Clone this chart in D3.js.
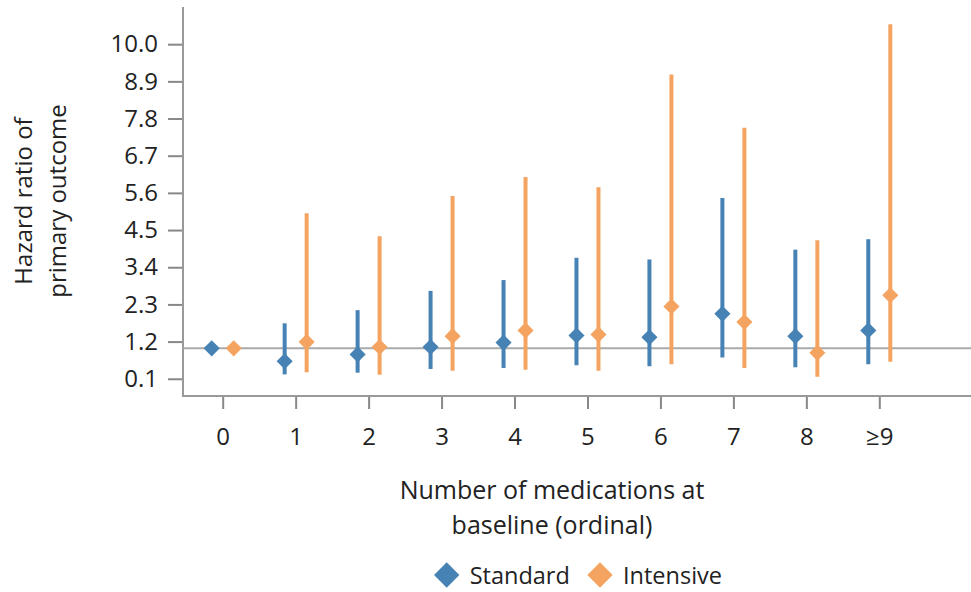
<!DOCTYPE html>
<html>
<head>
<meta charset="utf-8">
<script src="https://cdn.jsdelivr.net/npm/d3@7"></script>
<style>
  body { margin: 0; background: #fff; }
  text { font-family: "Open Sans", sans-serif; fill: #222; }
</style>
</head>
<body>
<svg id="chart" width="971" height="592"></svg>
<script>
// categories and values
var categories = ['0', '1', '2', '3', '4', '5', '6', '7', '8', '≥9'];
var yTicks = [0.1, 1.2, 2.3, 3.4, 4.5, 5.6, 6.7, 7.8, 8.9, 10.0];

var standardHR    = [1.00, 0.62, 0.82, 1.04, 1.17, 1.38, 1.33, 2.02, 1.36, 1.53];
var standardLow   = [null, 0.23, 0.28, 0.39, 0.42, 0.50, 0.47, 0.73, 0.44, 0.53];
var standardHigh  = [null, 1.74, 2.13, 2.70, 3.02, 3.68, 3.63, 5.45, 3.92, 4.23];

var intensiveHR   = [1.00, 1.19, 1.04, 1.36, 1.53, 1.41, 2.24, 1.78, 0.87, 2.57];
var intensiveLow  = [null, 0.29, 0.22, 0.34, 0.37, 0.34, 0.53, 0.42, 0.16, 0.60];
var intensiveHigh = [null, 5.00, 4.32, 5.51, 6.07, 5.77, 9.10, 7.53, 4.20, 10.59];

var seriesNames = ['Standard', 'Intensive'];
var colors = ['#4682b4', '#f4a460'];

(function () {
  var svg = d3.select('#chart');

  var plotLeft = 183, plotRight = 971, plotTop = 7, plotBottom = 396;

  var x = d3.scalePoint().domain(categories).range([222.7, 879.3]);
  var y = d3.scaleLinear().domain([-0.41, 11.1]).range([plotBottom, plotTop]);

  var series = [
    { name: seriesNames[0], color: colors[0], offset: -11, hr: standardHR, lo: standardLow, hi: standardHigh },
    { name: seriesNames[1], color: colors[1], offset: 11, hr: intensiveHR, lo: intensiveLow, hi: intensiveHigh }
  ];

  // y axis
  var yAxis = d3.axisLeft(y).tickValues(yTicks).tickFormat(d3.format('.1f')).tickSize(15).tickPadding(10);
  var gy = svg.append('g').attr('transform', 'translate(' + plotLeft + ',0)').call(yAxis);
  gy.select('.domain').remove();
  gy.selectAll('.tick line').attr('stroke', '#888').attr('stroke-width', 2);
  gy.selectAll('.tick text').style('font-size', '24px').attr('fill', '#222');
  svg.append('line')
    .attr('x1', plotLeft).attr('x2', plotLeft).attr('y1', plotTop).attr('y2', plotBottom + 1)
    .attr('stroke', '#999').attr('stroke-width', 2);

  // x axis
  var xAxis = d3.axisBottom(x).tickSize(13).tickPadding(19);
  var gx = svg.append('g').attr('transform', 'translate(0,' + plotBottom + ')').call(xAxis);
  gx.select('.domain').remove();
  gx.selectAll('.tick line').attr('stroke', '#888').attr('stroke-width', 2);
  gx.selectAll('.tick text').style('font-size', '24px').attr('fill', '#222');
  svg.append('line')
    .attr('x1', plotLeft).attr('x2', plotRight).attr('y1', plotBottom).attr('y2', plotBottom)
    .attr('stroke', '#999').attr('stroke-width', 2);

  // reference line at 1
  svg.append('line')
    .attr('x1', plotLeft).attr('x2', plotRight).attr('y1', y(1)).attr('y2', y(1))
    .attr('stroke', '#aaa').attr('stroke-width', 2);

  // error bars
  series.forEach(function (s) {
    var rows = categories.map(function (c, i) {
      return { c: c, hr: s.hr[i], lo: s.lo[i], hi: s.hi[i] };
    });
    svg.append('g').selectAll('line')
      .data(rows.filter(function (d) { return d.lo !== null; }))
      .enter().append('line')
      .attr('x1', function (d) { return x(d.c) + s.offset; })
      .attr('x2', function (d) { return x(d.c) + s.offset; })
      .attr('y1', function (d) { return y(d.lo); })
      .attr('y2', function (d) { return y(d.hi); })
      .attr('stroke', s.color).attr('stroke-width', 4);
    s.rows = rows;
  });

  // diamonds
  var diamond = d3.symbol().type(d3.symbolSquare).size(130);
  series.forEach(function (s) {
    svg.append('g').selectAll('path')
      .data(s.rows)
      .enter().append('path')
      .attr('d', diamond)
      .attr('transform', function (d) {
        return 'translate(' + (x(d.c) + s.offset) + ',' + y(d.hr) + ') rotate(45)';
      })
      .attr('fill', s.color);
  });

  // axis titles
  var yTitle = svg.append('text')
    .attr('transform', 'translate(0,201) rotate(-90)')
    .attr('text-anchor', 'middle')
    .style('font-size', '24px');
  yTitle.append('tspan').attr('x', 0).attr('y', 32).text('Hazard ratio of');
  yTitle.append('tspan').attr('x', 0).attr('y', 66).text('primary outcome');

  var xTitle = svg.append('text')
    .attr('text-anchor', 'middle')
    .style('font-size', '25px');
  xTitle.append('tspan').attr('x', 552).attr('y', 499).text('Number of medications at');
  xTitle.append('tspan').attr('x', 552).attr('y', 534).text('baseline (ordinal)');

  // legend
  var legendX = [446.7, 600];
  var legendSymbol = d3.symbol().type(d3.symbolSquare).size(320);
  var legend = svg.append('g').selectAll('g')
    .data(series)
    .enter().append('g')
    .attr('transform', function (d, i) { return 'translate(' + legendX[i] + ',575)'; });
  legend.append('path')
    .attr('d', legendSymbol)
    .attr('transform', 'rotate(45)')
    .attr('fill', function (d) { return d.color; });
  legend.append('text')
    .attr('x', 23).attr('y', 9)
    .style('font-size', '23.5px')
    .text(function (d) { return d.name; });
})();
</script>
</body>
</html>
